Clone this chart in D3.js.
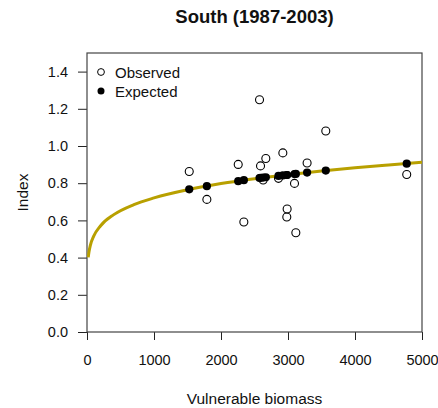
<!DOCTYPE html>
<html>
<head>
<meta charset="utf-8">
<script src="https://cdn.jsdelivr.net/npm/d3@7"></script>
<style>
  html, body { margin: 0; padding: 0; background: #fff; }
  svg { display: block; font-family: "Liberation Sans", Arial, sans-serif; }
</style>
</head>
<body>
<svg id="chart" width="438" height="408"></svg>
<script>
// Vulnerable biomass for each survey year (1987-2003)
const biomass = [1526, 1789, 2257, 2341, 2575, 2590, 2629, 2669, 2858, 2923, 2982, 2987, 3097, 3117, 3285, 3564, 4772];
// Observed index values
const observed = [0.863, 0.713, 0.901, 0.591, 1.249, 0.893, 0.817, 0.933, 0.826, 0.963, 0.618, 0.661, 0.799, 0.534, 0.909, 1.081, 0.847];
// Expected index values from the fitted relationship
const expected = [0.767, 0.784, 0.811, 0.816, 0.828, 0.829, 0.830, 0.832, 0.839, 0.842, 0.844, 0.844, 0.849, 0.850, 0.857, 0.868, 0.905];
// Fitted curve, sampled along biomass
const curveB = [18, 30, 50, 100, 200, 400, 700, 1000, 1500, 2000, 2500, 3000, 3500, 4000, 4500, 5000];
const curveI = [0.401, 0.432, 0.466, 0.515, 0.570, 0.631, 0.685, 0.721, 0.765, 0.798, 0.824, 0.846, 0.866, 0.883, 0.898, 0.912];
// Axis ticks
const xTicks = [0, 1000, 2000, 3000, 4000, 5000];
const yTicks = [0.0, 0.2, 0.4, 0.6, 0.8, 1.0, 1.2, 1.4];

const svg = d3.select("#chart");
const plot = { left: 87, right: 422, top: 53, bottom: 332 };

const x = d3.scaleLinear().domain([0, 5000]).range([plot.left, plot.right]);
const y = d3.scaleLinear().domain([0, 1.5]).range([plot.bottom, plot.top]);

// Axes
const xAxis = d3.axisBottom(x).tickValues(xTicks).tickSize(8).tickPadding(15).tickFormat(d3.format("d"));
const yAxis = d3.axisLeft(y).tickValues(yTicks).tickSize(9).tickPadding(10).tickFormat(d3.format(".1f"));

const gx = svg.append("g").attr("transform", `translate(0,${plot.bottom})`).call(xAxis);
const gy = svg.append("g").attr("transform", `translate(${plot.left},0)`).call(yAxis);
[gx, gy].forEach(g => {
  g.select(".domain").remove();
  g.selectAll(".tick line").attr("stroke", "#222").attr("stroke-width", 1);
  g.selectAll(".tick text").attr("font-size", 14.5).attr("fill", "#111")
    .attr("font-family", "'Liberation Sans', Arial, sans-serif");
});

// Plot frame
svg.append("rect")
  .attr("x", plot.left).attr("y", plot.top)
  .attr("width", plot.right - plot.left).attr("height", plot.bottom - plot.top)
  .attr("fill", "none").attr("stroke", "#444").attr("stroke-width", 1.2);

// Fitted curve
svg.append("clipPath").attr("id", "clip")
  .append("rect").attr("x", plot.left).attr("y", plot.top)
  .attr("width", plot.right - plot.left).attr("height", plot.bottom - plot.top);

const line = d3.line()
  .x(i => x(curveB[i]))
  .y(i => y(curveI[i]))
  .curve(d3.curveMonotoneX);

svg.append("path")
  .attr("d", line(d3.range(curveB.length)))
  .attr("fill", "none")
  .attr("stroke", "#B8A000")
  .attr("stroke-width", 3)
  .attr("clip-path", "url(#clip)");

// Observed points (open circles)
svg.append("g").selectAll("circle")
  .data(d3.range(biomass.length))
  .join("circle")
  .attr("cx", i => x(biomass[i]))
  .attr("cy", i => y(observed[i]))
  .attr("r", 4)
  .attr("fill", "none")
  .attr("stroke", "#000")
  .attr("stroke-width", 1.1);

// Expected points (filled circles)
svg.append("g").selectAll("circle")
  .data(d3.range(biomass.length))
  .join("circle")
  .attr("cx", i => x(biomass[i]))
  .attr("cy", i => y(expected[i]))
  .attr("r", 4.1)
  .attr("fill", "#000");

// Legend
const legend = svg.append("g").attr("font-size", 15).attr("fill", "#111");
legend.append("circle").attr("cx", 101).attr("cy", 72).attr("r", 3.4)
  .attr("fill", "none").attr("stroke", "#000").attr("stroke-width", 1);
legend.append("text").attr("x", 115).attr("y", 78).text("Observed");
legend.append("circle").attr("cx", 101).attr("cy", 91).attr("r", 3.5).attr("fill", "#000");
legend.append("text").attr("x", 115).attr("y", 96.5).text("Expected");

// Titles
svg.append("text")
  .attr("x", (plot.left + plot.right) / 2).attr("y", 22.5)
  .attr("text-anchor", "middle").attr("font-size", 18.5).attr("font-weight", "bold")
  .attr("fill", "#111")
  .text("South (1987-2003)");

svg.append("text")
  .attr("x", (plot.left + plot.right) / 2).attr("y", 403.5)
  .attr("text-anchor", "middle").attr("font-size", 15.5).attr("fill", "#111")
  .text("Vulnerable biomass");

svg.append("text")
  .attr("transform", `translate(27.5,${(plot.top + plot.bottom) / 2}) rotate(-90)`)
  .attr("text-anchor", "middle").attr("font-size", 15.5).attr("fill", "#111")
  .text("Index");
</script>
</body>
</html>
